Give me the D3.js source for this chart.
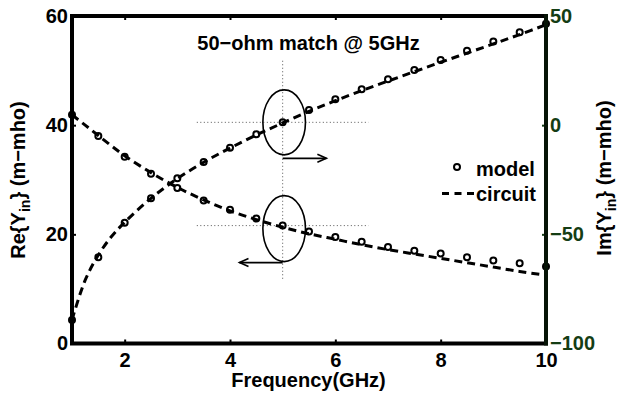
<!DOCTYPE html>
<html>
<head>
<meta charset="utf-8">
<script src="https://cdn.jsdelivr.net/npm/d3@7/dist/d3.min.js"></script>
<style>
  html, body { margin: 0; padding: 0; background: #fff; }
  svg { display: block; font-family: "Liberation Sans", Arial, Helvetica, sans-serif; font-weight: bold; }
</style>
</head>
<body>
<svg id="chart" width="621" height="397"></svg>
<script>
// ---- data ----
const freqModel = [1, 1.5, 2, 2.5, 3, 3.5, 4, 4.5, 5, 5.5, 6, 6.5, 7, 7.5, 8, 8.5, 9, 9.5, 10];
const reModel = [41.9, 38.0, 34.2, 31.1, 28.5, 26.2, 24.5, 22.9, 21.6, 20.5, 19.5, 18.65, 17.7, 17.0, 16.5, 15.8, 15.2, 14.7, 14.1];
const imModel = [-89.2, -60.5, -44.7, -33.5, -24.3, -16.9, -10.3, -4.2, 1.3, 7.0, 11.9, 16.4, 21.0, 25.3, 29.9, 34.1, 38.3, 42.6, 46.4];
const freqCircuit = [1, 1.25, 1.5, 1.75, 2, 2.5, 3, 3.5, 4, 4.5, 5, 5.5, 6, 6.5, 7, 7.5, 8, 8.5, 9, 9.5, 10];
const reCircuit = [41.9, 40.0, 38.1, 36.2, 34.4, 31.3, 28.6, 26.3, 24.3, 22.7, 21.3, 20.1, 19.1, 18.1, 17.2, 16.4, 15.6, 14.8, 14.0, 13.2, 12.5];
const imCircuit = [-89.2, -71.0, -59.5, -51.0, -44.5, -33.5, -24.5, -17.0, -10.5, -4.5, 1.0, 6.3, 11.2, 15.8, 20.2, 24.5, 28.8, 33.0, 37.2, 41.5, 46.0];
const xTicks = [2, 4, 6, 8, 10];
const leftTicks = [0, 20, 40, 60];
const rightTicks = [-100, -50, 0, 50];
const titleText = "50\u2212ohm match @ 5GHz";
const xTitle = "Frequency(GHz)";
const legendLabels = ["model", "circuit"];
const matchFreq = 5;

// ---- layout ----
const L = 72, R = 546, T = 16, B = 343.5;
const svg = d3.select("#chart");
const x = d3.scaleLinear().domain([1, 10]).range([L, R]);
const yL = d3.scaleLinear().domain([0, 60]).range([B, T]);
const yR = d3.scaleLinear().domain([-100, 50]).range([B, T]);
const rightColor = "#143d14";

// ---- annotations (dotted crosshairs, ellipses, arrows) ----
const ann = svg.append("g");
const reAt5 = reModel[freqModel.indexOf(matchFreq)];
const imAt5 = imModel[freqModel.indexOf(matchFreq)];
const xm = x(matchFreq);
ann.append("line").attr("x1", xm).attr("x2", xm).attr("y1", yL(51.8)).attr("y2", yL(11.6))
  .attr("stroke", "#555").attr("stroke-width", 1).attr("stroke-dasharray", "1,2.5");
[[yR(imAt5)], [yL(reAt5)]].forEach(([yy]) => {
  ann.append("line").attr("x1", x(matchFreq - 1.63)).attr("x2", x(matchFreq + 1.63))
    .attr("y1", yy).attr("y2", yy)
    .attr("stroke", "#555").attr("stroke-width", 1).attr("stroke-dasharray", "1,2.5");
});
const ex = xm + 1.5, rx = 21.3, ry = 33;
const eUp = yR(imAt5), eLo = yL(reAt5) + 3;
ann.append("ellipse").attr("cx", ex).attr("cy", eUp).attr("rx", rx).attr("ry", ry - 0.5)
  .attr("fill", "none").attr("stroke", "#000").attr("stroke-width", 1.6);
ann.append("ellipse").attr("cx", ex).attr("cy", eLo).attr("rx", rx).attr("ry", ry)
  .attr("fill", "none").attr("stroke", "#000").attr("stroke-width", 1.6);
function arrow(x1, x2, yy) {
  const d = x2 > x1 ? 1 : -1;
  ann.append("line").attr("x1", x1).attr("x2", x2).attr("y1", yy).attr("y2", yy)
    .attr("stroke", "#000").attr("stroke-width", 1.6);
  ann.append("path").attr("d", `M${x2 - d * 9},${yy - 4}L${x2},${yy}L${x2 - d * 9},${yy + 4}`)
    .attr("fill", "none").attr("stroke", "#000").attr("stroke-width", 1.6);
}
arrow(xm, x(matchFreq + 0.83), eUp + ry + 3);
arrow(xm, x(matchFreq - 0.82), eLo + ry + 1);

// ---- circuit dashed lines ----
const dash = "8,5";
const lineL = d3.line().x((d, i) => x(freqCircuit[i])).y(d => yL(d)).curve(d3.curveCatmullRom);
const lineR = d3.line().x((d, i) => x(freqCircuit[i])).y(d => yR(d)).curve(d3.curveCatmullRom);
svg.append("path").attr("d", lineL(reCircuit)).attr("fill", "none").attr("stroke", "#000")
  .attr("stroke-width", 3).attr("stroke-dasharray", dash);
svg.append("path").attr("d", lineR(imCircuit)).attr("fill", "none").attr("stroke", "#000")
  .attr("stroke-width", 3).attr("stroke-dasharray", dash);

// ---- model markers ----
const mk = svg.append("g").attr("fill", "none").attr("stroke", "#000").attr("stroke-width", 2);
mk.selectAll(".re").data(reModel).join("circle").attr("cx", (d, i) => x(freqModel[i])).attr("cy", d => yL(d)).attr("r", 3);
mk.selectAll(".im").data(imModel).join("circle").attr("cx", (d, i) => x(freqModel[i])).attr("cy", d => yR(d)).attr("r", 3);

// ---- axes ----
function styleAxis(g, color) {
  g.select(".domain").remove();
  g.selectAll(".tick line").attr("stroke", color).attr("stroke-width", 2);
  g.selectAll(".tick text").attr("fill", color).attr("font-size", 20).attr("font-weight", "bold")
    .attr("font-family", "Liberation Sans, Arial, sans-serif");
}
svg.append("g").attr("transform", `translate(0,${B})`)
  .call(d3.axisBottom(x).tickValues(xTicks).tickFormat(d3.format("d")).tickSizeInner(-4).tickSizeOuter(0).tickPadding(9))
  .call(g => styleAxis(g, "#000"));
svg.append("g").attr("transform", `translate(0,${T})`)
  .call(d3.axisTop(x).tickValues(xTicks.filter(v => v < 10)).tickFormat("").tickSizeInner(-4).tickSizeOuter(0))
  .call(g => styleAxis(g, "#000"));
svg.append("g").attr("transform", `translate(${L},0)`)
  .call(d3.axisLeft(yL).tickValues(leftTicks).tickFormat(d3.format("d")).tickSizeInner(-4).tickSizeOuter(0).tickPadding(4))
  .call(g => styleAxis(g, "#000"));
svg.append("g").attr("transform", `translate(${R},0)`)
  .call(d3.axisRight(yR).tickValues(rightTicks).tickFormat(d => d3.format("d")(d).replace("-", "\u2212")).tickSizeInner(-4).tickSizeOuter(0).tickPadding(4))
  .call(g => styleAxis(g, rightColor));

// frame
svg.append("path").attr("d", `M${R},${T}L${L},${T}L${L},${B}L${R},${B}`)
  .attr("fill", "none").attr("stroke", "#000").attr("stroke-width", 4).attr("stroke-linecap", "square");
svg.append("line").attr("x1", R).attr("x2", R).attr("y1", T).attr("y2", B)
  .attr("stroke", "#061406").attr("stroke-width", 4).attr("stroke-linecap", "square");

// ---- texts ----
svg.append("text").attr("x", 308.5).attr("y", 50).attr("text-anchor", "middle")
  .attr("font-size", 20).text(titleText);
svg.append("text").attr("x", 308.5).attr("y", 387).attr("text-anchor", "middle")
  .attr("font-size", 20).text(xTitle);

function yTitle(tx, ty, pre, color) {
  const t = svg.append("text").attr("transform", `translate(${tx},${ty}) rotate(-90)`)
    .attr("text-anchor", "middle").attr("font-size", 20).attr("fill", color);
  t.append("tspan").text(pre + "{Y");
  t.append("tspan").attr("font-size", 14).attr("dy", 5).text("in");
  t.append("tspan").attr("dy", -5).text("} (m\u2212mho)");
}
yTitle(24.5, 180, "Re", "#000");
yTitle(611, 178, "Im", "#000");

// ---- legend ----
const lg = svg.append("g");
lg.append("circle").attr("cx", 457).attr("cy", 167).attr("r", 3)
  .attr("fill", "none").attr("stroke", "#000").attr("stroke-width", 2);
lg.append("text").attr("x", 476).attr("y", 176).attr("font-size", 20).text(legendLabels[0]);
lg.append("line").attr("x1", 442).attr("x2", 474).attr("y1", 193.5).attr("y2", 193.5)
  .attr("stroke", "#000").attr("stroke-width", 3).attr("stroke-dasharray", "7,5.5");
lg.append("text").attr("x", 476).attr("y", 201).attr("font-size", 20).text(legendLabels[1]);
</script>
</body>
</html>
